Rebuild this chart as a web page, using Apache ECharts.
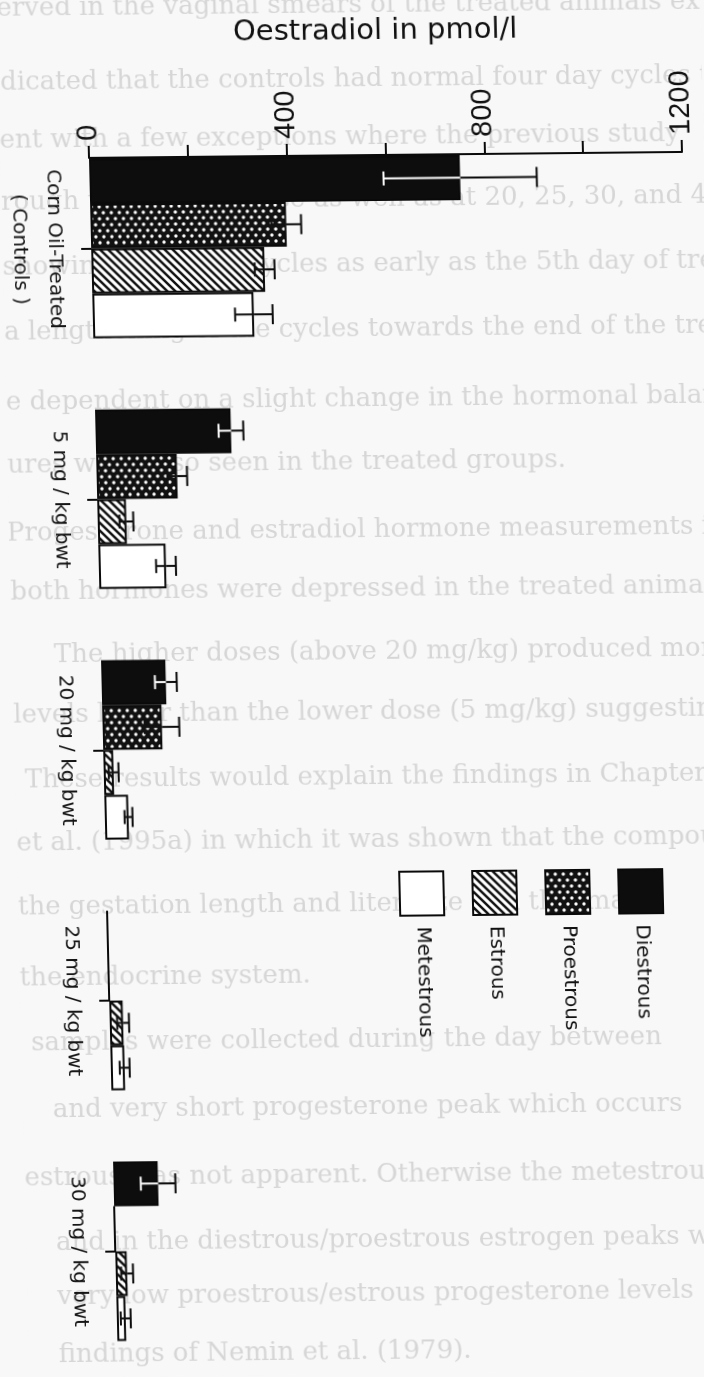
<!DOCTYPE html>
<html><head><meta charset="utf-8">
<script src="https://cdn.jsdelivr.net/npm/echarts@6/dist/echarts.min.js"></script>
<style>
html,body{margin:0;padding:0;background:#f8f8f8;overflow:hidden}
#c{width:704px;height:1377px;transform-origin:82px 158px;transform:matrix(1,-0.01,0.024,1,0,0);}
</style></head><body><div id="c"></div>
<script>
// ---------- data ----------
const categories = ['Corn Oil-Treated\n( Controls )', '5 mg / kg bwt', '20 mg / kg bwt', '25 mg / kg bwt', '30 mg / kg bwt'];
const seriesNames = ['Diestrous', 'Proestrous', 'Estrous', 'Metestrous'];
const diestrous  = [750, 274, 130, 0, 90];
const proestrous = [396, 163, 120, 0, 0];
const estrous    = [350, 58, 20, 27, 23];
const metestrous = [326, 136, 48, 28, 18];
const diestrousErr  = [155, 25, 22, 0, 35];
const proestrousErr = [30, 20, 35, 0, 0];
const estrousErr    = [20, 14, 10, 12, 12];
const metestrousErr = [38, 20, 8, 10, 10];
const valueTickLabels = [0, 400, 800, 1200];
const titleText = 'Oestradiol in pmol/l';

// faint bleed-through page text: [y, x, text]
const pageLines = [
  [8, 0, 'erved in the vaginal smears of the treated animals examined daily'],
  [82, 2, 'dicated that the controls had normal four day cycles thro'],
  [140, 0, 'ent with a few exceptions where the previous study'],
  [202, 0, 'rough the highest dose as well as at 20, 25, 30, and 40 mg/kg bw'],
  [267, 0, 'showing irregular cycles as early as the 5th day of treat'],
  [332, 0, 'a lengthening of the cycles towards the end of the treatm'],
  [402, 0, 'e dependent on a slight change in the hormonal balance'],
  [465, 0, 'ures were also seen in the treated groups.'],
  [533, -2, 'Progesterone and estradiol hormone measurements in'],
  [592, 0, 'both hormones were depressed in the treated animals'],
  [655, 42, 'The higher doses (above 20 mg/kg) produced more'],
  [715, 0, 'levels lower than the lower dose (5 mg/kg) suggesting'],
  [780, 10, 'These results would explain the findings in Chapter'],
  [843, 0, 'et al. (1995a) in which it was shown that the compound'],
  [907, 0, 'the gestation length and liter size and this may'],
  [978, 0, 'the endocrine system.'],
  [1043, 10, 'samples were collected during the day between'],
  [1110, 30, 'and very short progesterone peak which occurs'],
  [1178, 0, 'estrous was not apparent. Otherwise the metestrous'],
  [1243, 30, 'and in the diestrous/proestrous estrogen peaks were'],
  [1297, 30, 'very low proestrous/estrous progesterone levels'],
  [1355, 30, 'findings of Nemin et al. (1979).']
];

// ---------- patterns ----------
function hatchTile() {
  const c = document.createElement('canvas'); c.width = 8; c.height = 8;
  const g = c.getContext('2d');
  g.fillStyle = '#fff'; g.fillRect(0, 0, 8, 8);
  g.strokeStyle = '#111'; g.lineWidth = 2.5; g.beginPath();
  g.moveTo(-2, -2); g.lineTo(10, 10);
  g.moveTo(-2, 6); g.lineTo(2, 10);
  g.moveTo(6, -2); g.lineTo(10, 2);
  g.stroke();
  return c;
}
function meshTile() {
  const c = document.createElement('canvas'); c.width = 8; c.height = 12;
  const g = c.getContext('2d');
  g.fillStyle = '#111'; g.fillRect(0, 0, 8, 12);
  g.fillStyle = '#fff';
  [[2, 3], [6, 9]].forEach(p => { g.beginPath(); g.arc(p[0], p[1], 1.7, 0, Math.PI * 2); g.fill(); });
  return c;
}
const fills = [
  '#0d0d0d',
  { image: meshTile(), repeat: 'repeat' },
  { image: hatchTile(), repeat: 'repeat' },
  '#ffffff'
];
const innerErrColor = ['#ffffff', '#111', '#111', '#111'];
const values = [diestrous, proestrous, estrous, metestrous];
const errs = [diestrousErr, proestrousErr, estrousErr, metestrousErr];

const BAR_FRAC = 0.179;

function barSeries(i) {
  return {
    type: 'bar', name: seriesNames[i], data: values[i],
    barWidth: (BAR_FRAC * 100) + '%', barGap: '0%',
    itemStyle: { color: fills[i], borderColor: '#0a0a0a', borderWidth: 2 },
    silent: true, z: 2
  };
}
function errSeries(i) {
  return {
    type: 'custom', name: seriesNames[i] + ' SE',
    data: values[i].map((v, k) => [v, k, errs[i][k]]),
    encode: { x: 0, y: 1 }, z: 5, silent: true,
    renderItem(params, api) {
      const v = api.value(0), c = api.value(1), e = api.value(2);
      const band = api.size([0, 1])[1];
      const bw = band * BAR_FRAC;
      const base = api.coord([0, c]);
      const cy = base[1] + (i - 1.5) * bw;
      const x0 = base[0];
      const xv = api.coord([v, c])[0];
      const ch = [];
      const ls = (col) => ({ stroke: col, lineWidth: 2 });
      if (v === 0) {
        ch.push({ type: 'line', shape: { x1: x0, y1: cy - bw / 2, x2: x0, y2: cy + bw / 2 }, style: ls('#0a0a0a') });
      }
      if (e > 0) {
        const xh = api.coord([v + e, c])[0], xl = api.coord([v - e, c])[0];
        ch.push({ type: 'line', shape: { x1: xv, y1: cy, x2: xh, y2: cy }, style: ls('#0a0a0a') });
        ch.push({ type: 'line', shape: { x1: xh, y1: cy - 10, x2: xh, y2: cy + 10 }, style: ls('#0a0a0a') });
        ch.push({ type: 'line', shape: { x1: xl, y1: cy, x2: xv, y2: cy }, style: ls(innerErrColor[i]) });
        ch.push({ type: 'line', shape: { x1: xl, y1: cy - 7, x2: xl, y2: cy + 7 }, style: ls(innerErrColor[i]) });
      }
      return { type: 'group', children: ch };
    }
  };
}

// ---------- graphics: page text + legend ----------
const graphics = [];
pageLines.forEach(([y, x, t]) => {
  graphics.push({
    type: 'text', x: x, y: y, z: -10, silent: true,
    style: { text: t, font: '26px "DejaVu Serif"', fill: '#d6d6d6', verticalAlign: 'middle', align: 'left',
      shadowBlur: 3, shadowColor: 'rgba(205,205,205,0.9)' }
  });
});
const legendX0 = 601, legendStep = -73, legendY = 875, legendBox = 44;
seriesNames.forEach((name, i) => {
  const x = legendX0 + legendStep * i;
  graphics.push({
    type: 'rect', z: 10, silent: true,
    shape: { x: x, y: legendY, width: legendBox, height: legendBox },
    style: { fill: fills[i], stroke: '#0a0a0a', lineWidth: 2 }
  });
  graphics.push({
    type: 'text', z: 10, silent: true, x: x + legendBox / 2, y: legendY + legendBox + 11, rotation: -Math.PI / 2,
    style: { text: name, font: '20px "DejaVu Sans"', fill: '#111', align: 'left', verticalAlign: 'middle' }
  });
});

const chart = echarts.init(document.getElementById('c'), null, { renderer: 'canvas' });
chart.setOption({
  animation: false,
  backgroundColor: '#f8f8f8',
  title: {
    text: titleText, left: 231, top: 15,
    textStyle: { fontFamily: 'DejaVu Sans', fontSize: 29, fontWeight: 'normal', color: '#111' }
  },
  grid: { left: 82, width: 600, top: 123.5, height: 1285 },
  xAxis: {
    type: 'value', position: 'top', min: 0, max: 1200, interval: 200, offset: -34.5,
    axisLine: { show: true, lineStyle: { color: '#0a0a0a', width: 2 } },
    axisTick: { show: true, length: 12, lineStyle: { color: '#0a0a0a', width: 2 } },
    splitLine: { show: false },
    axisLabel: {
      rotate: -90, margin: 17, color: '#111', fontSize: 29,
      fontFamily: '"Liberation Sans Narrow", "Liberation Sans", sans-serif',
      formatter: v => valueTickLabels.indexOf(v) >= 0 ? String(v) : ''
    }
  },
  yAxis: {
    type: 'category', data: categories, inverse: true,
    axisLine: { show: false },
    axisTick: { show: true, alignWithLabel: true, length: 10, lineStyle: { color: '#0a0a0a', width: 2 } },
    axisLabel: { rotate: -90, margin: 19, fontSize: 20, lineHeight: 35, color: '#151515', fontFamily: 'DejaVu Sans' }
  },
  graphic: graphics,
  series: [0, 1, 2, 3].map(barSeries).concat([0, 1, 2, 3].map(errSeries))
});
</script></body></html>
